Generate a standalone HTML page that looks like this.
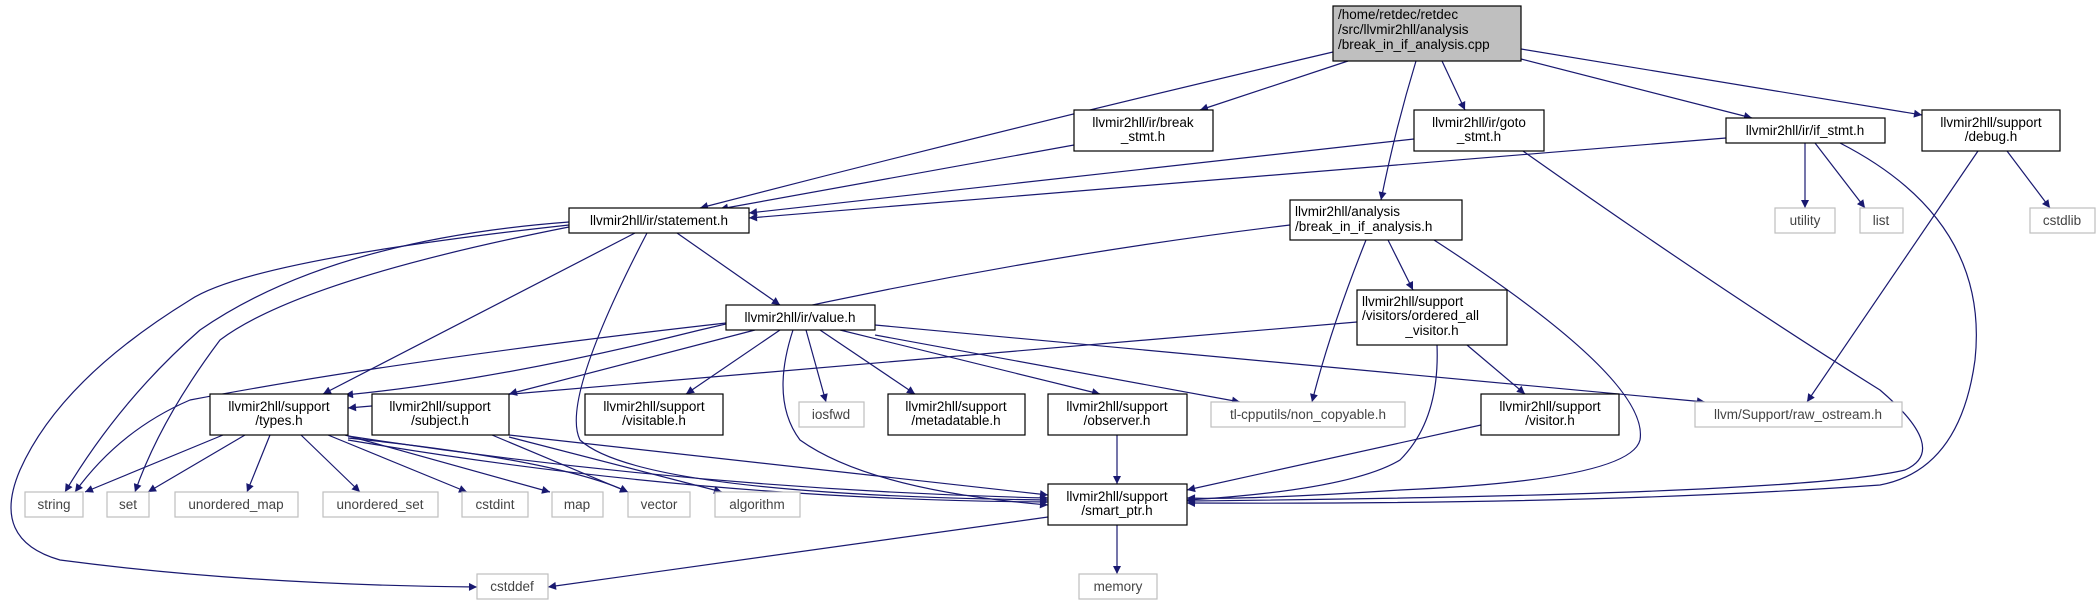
<!DOCTYPE html>
<html><head><meta charset="utf-8"><style>
html,body{margin:0;padding:0;background:#fff;}
svg{display:block;}
text{font-family:"Liberation Sans",sans-serif;font-size:13.5px;fill:#000;}
.g text{fill:#444;}
</style></head><body>
<svg width="2097" height="603" viewBox="0 0 2097 603" xmlns="http://www.w3.org/2000/svg">
<defs><marker id="a" viewBox="0 0 10 10" refX="10" refY="5" markerWidth="10" markerHeight="8" markerUnits="userSpaceOnUse" orient="auto"><path d="M0,0 L10,5 L0,10 z" fill="#191970"/></marker></defs>
<g fill="none" stroke="#191970" stroke-width="1.2" marker-end="url(#a)">
<path d="M1333,52 Q1000,130 700,208"/>
<path d="M1348,61 L1200,110"/>
<path d="M1442,61 L1465,110"/>
<path d="M1416,61 Q1395,130 1381,200"/>
<path d="M1521,59 L1752,118"/>
<path d="M1521,49 L1922,115"/>
<path d="M1074,145 L720,209"/>
<path d="M1414,139 L749,213"/>
<path d="M1726,138 L749,218"/>
<path d="M1805,143 L1805,208"/>
<path d="M1815,143 L1865,208"/>
<path d="M1840,143 Q1990,220 1975,360 Q1960,470 1880,485 Q1600,505 1187,503"/>
<path d="M1523,151 Q1720,290 1880,390 Q1950,450 1905,470 Q1800,495 1187,501"/>
<path d="M1978,151 L1807,402"/>
<path d="M2007,151 L2050,208"/>
<path d="M569,222 Q330,240 200,330 Q120,400 65,492"/>
<path d="M569,227 Q300,280 220,340 Q160,420 135,492"/>
<path d="M569,225 Q250,260 190,300 Q60,380 20,470 Q-10,540 60,560 Q250,585 477,587"/>
<path d="M635,233 L323,394"/>
<path d="M677,233 L780,305"/>
<path d="M647,233 Q560,400 580,440 Q640,495 1048,500"/>
<path d="M1290,225 Q1000,260 700,330 Q500,380 345,395"/>
<path d="M1366,240 Q1330,330 1312,402"/>
<path d="M1388,240 L1413,290"/>
<path d="M1434,240 Q1650,380 1640,440 Q1630,480 1400,490 Q1250,500 1187,498"/>
<path d="M1357,322 L348,408"/>
<path d="M1467,345 L1525,394"/>
<path d="M1437,345 Q1440,420 1400,460 Q1350,490 1187,500"/>
<path d="M726,323 Q400,360 190,400 Q120,430 75,492"/>
<path d="M755,330 L509,394"/>
<path d="M780,330 L686,394"/>
<path d="M806,330 L826,402"/>
<path d="M820,330 L915,394"/>
<path d="M840,330 L1100,394"/>
<path d="M875,335 L1240,402"/>
<path d="M875,325 L1705,402"/>
<path d="M793,330 Q770,400 800,440 Q870,490 1048,505"/>
<path d="M223,435 L85,492"/>
<path d="M245,435 L148,492"/>
<path d="M270,435 L247,492"/>
<path d="M301,435 L360,492"/>
<path d="M328,435 L467,492"/>
<path d="M345,435 L550,492"/>
<path d="M348,438 Q560,460 628,492"/>
<path d="M348,436 Q700,490 1048,498"/>
<path d="M348,440 Q700,500 1048,502"/>
<path d="M492,435 L628,492"/>
<path d="M509,437 L722,492"/>
<path d="M509,435 L1048,495"/>
<path d="M1117,435 L1117,484"/>
<path d="M1481,425 L1187,490"/>
<path d="M1117,525 L1117,574"/>
<path d="M1048,517 L548,587"/>
</g>
<g stroke="#000" stroke-width="1.2" fill="#fff">
<rect x="1333" y="6" width="188" height="55" fill="#bfbfbf"/>
<rect x="1074" y="110" width="139" height="41"/>
<rect x="1414" y="110" width="130" height="41"/>
<rect x="1726" y="118" width="159" height="25"/>
<rect x="1922" y="110" width="138" height="41"/>
<rect x="569" y="208" width="180" height="25"/>
<rect x="1290" y="200" width="172" height="40"/>
<rect x="1357" y="290" width="150" height="55"/>
<rect x="726" y="305" width="149" height="25"/>
<rect x="210" y="394" width="138" height="41"/>
<rect x="372" y="394" width="137" height="41"/>
<rect x="585" y="394" width="138" height="41"/>
<rect x="888" y="394" width="137" height="41"/>
<rect x="1048" y="394" width="139" height="41"/>
<rect x="1481" y="394" width="138" height="41"/>
<rect x="1048" y="484" width="139" height="41"/>
</g>
<g stroke="#bfbfbf" stroke-width="1.2" fill="#fff">
<rect x="1775" y="208" width="60" height="25"/>
<rect x="1860" y="208" width="43" height="25"/>
<rect x="2030" y="208" width="65" height="25"/>
<rect x="799" y="402" width="65" height="25"/>
<rect x="1211" y="402" width="194" height="25"/>
<rect x="1695" y="402" width="207" height="25"/>
<rect x="25" y="492" width="58" height="25"/>
<rect x="107" y="492" width="42" height="25"/>
<rect x="175" y="492" width="123" height="25"/>
<rect x="323" y="492" width="115" height="25"/>
<rect x="462" y="492" width="66" height="25"/>
<rect x="552" y="492" width="51" height="25"/>
<rect x="628" y="492" width="62" height="25"/>
<rect x="715" y="492" width="85" height="25"/>
<rect x="477" y="574" width="71" height="25"/>
<rect x="1079" y="574" width="78" height="25"/>
</g>
<g text-anchor="middle">
<text x="1338" y="19" text-anchor="start">/home/retdec/retdec</text>
<text x="1338" y="34" text-anchor="start">/src/llvmir2hll/analysis</text>
<text x="1338" y="49" text-anchor="start">/break_in_if_analysis.cpp</text>
<text x="1143" y="127">llvmir2hll/ir/break</text><text x="1143" y="141">_stmt.h</text>
<text x="1479" y="127">llvmir2hll/ir/goto</text><text x="1479" y="141">_stmt.h</text>
<text x="1805" y="135">llvmir2hll/ir/if_stmt.h</text>
<text x="1991" y="127">llvmir2hll/support</text><text x="1991" y="141">/debug.h</text>
<text x="659" y="225">llvmir2hll/ir/statement.h</text>
<text x="1295" y="216" text-anchor="start">llvmir2hll/analysis</text><text x="1295" y="231" text-anchor="start">/break_in_if_analysis.h</text>
<text x="1362" y="306" text-anchor="start">llvmir2hll/support</text><text x="1362" y="320" text-anchor="start">/visitors/ordered_all</text><text x="1432" y="335">_visitor.h</text>
<text x="800" y="322">llvmir2hll/ir/value.h</text>
<text x="279" y="411">llvmir2hll/support</text><text x="279" y="425">/types.h</text>
<text x="440" y="411">llvmir2hll/support</text><text x="440" y="425">/subject.h</text>
<text x="654" y="411">llvmir2hll/support</text><text x="654" y="425">/visitable.h</text>
<text x="956" y="411">llvmir2hll/support</text><text x="956" y="425">/metadatable.h</text>
<text x="1117" y="411">llvmir2hll/support</text><text x="1117" y="425">/observer.h</text>
<text x="1550" y="411">llvmir2hll/support</text><text x="1550" y="425">/visitor.h</text>
<text x="1117" y="501">llvmir2hll/support</text><text x="1117" y="515">/smart_ptr.h</text>
</g>
<g class="g" text-anchor="middle">
<text x="1805" y="225">utility</text>
<text x="1881" y="225">list</text>
<text x="2062" y="225">cstdlib</text>
<text x="831" y="419">iosfwd</text>
<text x="1308" y="419">tl-cpputils/non_copyable.h</text>
<text x="1798" y="419">llvm/Support/raw_ostream.h</text>
<text x="54" y="509">string</text>
<text x="128" y="509">set</text>
<text x="236" y="509">unordered_map</text>
<text x="380" y="509">unordered_set</text>
<text x="495" y="509">cstdint</text>
<text x="577" y="509">map</text>
<text x="659" y="509">vector</text>
<text x="757" y="509">algorithm</text>
<text x="512" y="591">cstddef</text>
<text x="1118" y="591">memory</text>
</g>
</svg>
</body></html>
